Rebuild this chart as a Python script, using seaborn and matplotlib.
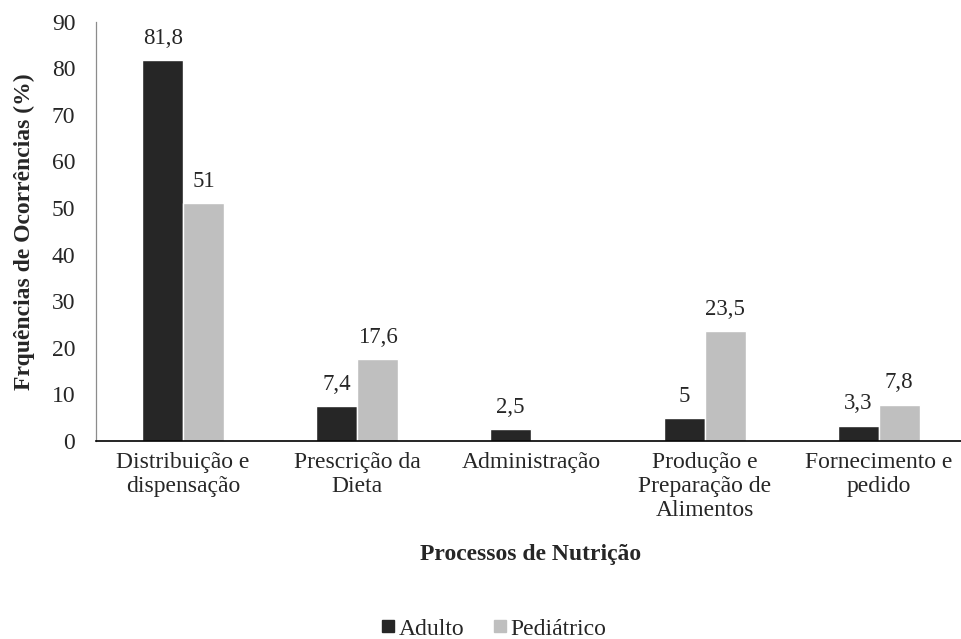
import matplotlib
matplotlib.use("Agg")
import matplotlib.pyplot as plt
from matplotlib.lines import Line2D
import seaborn as sns
import numpy as np
import pandas as pd

# data
processos = [
    "Distribuição e\ndispensação",
    "Prescrição da\nDieta",
    "Administração",
    "Produção e\nPreparação de\nAlimentos",
    "Fornecimento e\npedido",
]
adulto = [81.8, 7.4, 2.5, 5.0, 3.3]
pediatrico = [51.0, 17.6, np.nan, 23.5, 7.8]
grupos = ["Adulto", "Pediátrico"]
cores = ["#262626", "#bfbfbf"]

df = pd.DataFrame({
    "processo": processos * 2,
    "grupo": [grupos[0]] * len(processos) + [grupos[1]] * len(processos),
    "valor": adulto + pediatrico,
})

sns.set_style("white")
plt.rcParams["font.family"] = ["Liberation Serif", "DejaVu Serif"]

fig = plt.figure(figsize=(9.61, 6.39), dpi=100)
ax = fig.add_axes([0.100, 0.310, 0.905, 0.656])

sns.barplot(
    data=df, x="processo", y="valor", hue="grupo",
    order=processos, hue_order=grupos, palette=cores,
    width=0.47, errorbar=None, saturation=1, ax=ax, legend=False,
)

for c in ax.containers:
    ax.bar_label(c, fmt=lambda v: f"{v:g}".replace(".", ","),
                 padding=8, fontsize=16.5)

ax.set_ylim(0, 90)
ax.set_xlim(-0.5, 4.5)
ax.set_yticks(range(0, 91, 10))
ax.tick_params(axis="y", labelsize=17, length=0, pad=15)
ax.tick_params(axis="x", labelsize=17, length=0, pad=8)

ax.set_ylabel("Frquências de Ocorrências (%)", fontsize=17,
              fontweight="bold")
ax.yaxis.set_label_coords(-0.070, 0.5)
ax.set_xlabel("Processos de Nutrição", fontsize=17, fontweight="bold")
ax.xaxis.set_label_coords(0.5, -0.245)

sns.despine(ax=ax, top=True, right=True)
ax.spines["left"].set_color("#8c8c8c")
ax.spines["left"].set_linewidth(0.9)
ax.spines["bottom"].set_color("#000000")
ax.spines["bottom"].set_linewidth(1.2)

handles = [Line2D([0], [0], marker="s", linestyle="", markersize=9,
                  markerfacecolor=c, markeredgecolor=c) for c in cores]
fig.legend(handles, grupos, loc="center", bbox_to_anchor=(0.513, 0.016),
           ncol=2, frameon=False, fontsize=17, handletextpad=0.1,
           columnspacing=1.15, handlelength=0.7)

fig.savefig("out.png", dpi=100)
